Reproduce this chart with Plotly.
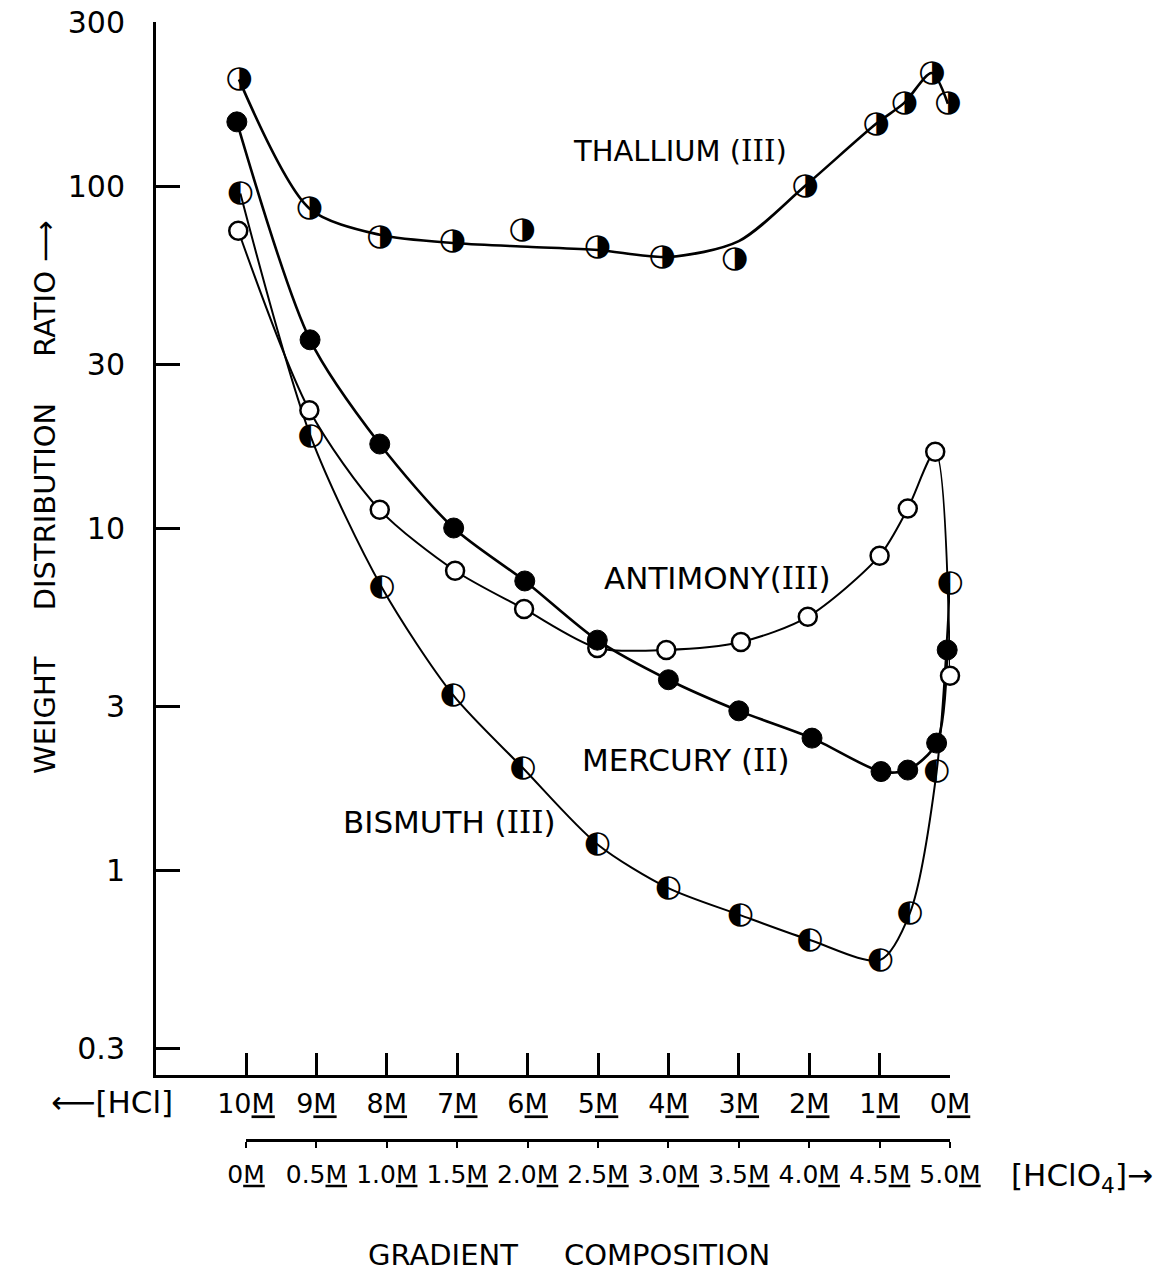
import plotly.graph_objects as go
import math

# ---------------- data ----------------
hcl_ticks = [10, 9, 8, 7, 6, 5, 4, 3, 2, 1, 0]
hcl_labels = ["10<u>M</u>", "9<u>M</u>", "8<u>M</u>", "7<u>M</u>", "6<u>M</u>", "5<u>M</u>",
              "4<u>M</u>", "3<u>M</u>", "2<u>M</u>", "1<u>M</u>", "0<u>M</u>"]
hclo4_ticks = [0, 0.5, 1.0, 1.5, 2.0, 2.5, 3.0, 3.5, 4.0, 4.5, 5.0]
hclo4_labels = ["0<u>M</u>", "0.5<u>M</u>", "1.0<u>M</u>", "1.5<u>M</u>", "2.0<u>M</u>", "2.5<u>M</u>",
                "3.0<u>M</u>", "3.5<u>M</u>", "4.0<u>M</u>", "4.5<u>M</u>", "5.0<u>M</u>"]
y_ticks = [300, 100, 30, 10, 3, 1, 0.3]
y_labels = ["300", "100", "30", "10", "3", "1", "0.3"]

# Thallium(III): measured points and drawn curve
tl_x = [10.1, 9.1, 8.1, 7.07, 6.08, 5.01, 4.09, 3.06, 2.06, 1.05, 0.65, 0.26, 0.03]
tl_y = [205, 86, 71, 69, 74, 66, 62, 61, 100, 152, 175, 214, 174]
tl_fit_x = [10.1, 9.1, 8.1, 7.0, 6.0, 5.0, 4.0, 3.0, 2.06, 1.05, 0.65, 0.26, 0.03]
tl_fit_y = [205, 86, 72, 68, 66.4, 65, 62, 69, 100, 152, 175, 214, 174]

# Mercury(II)
hg_x = [10.13, 9.09, 8.1, 7.05, 6.04, 5.01, 4.0, 3.0, 1.96, 0.98, 0.6, 0.19, 0.04]
hg_y = [154, 35.5, 17.6, 10.0, 7.0, 4.7, 3.6, 2.92, 2.43, 1.94, 1.96, 2.35, 4.4]

# Antimony(III)
sb_x = [10.11, 9.1, 8.1, 7.03, 6.05, 5.01, 4.03, 2.97, 2.02, 1.0, 0.6, 0.21, 0.0]
sb_y = [74, 22.1, 11.3, 7.5, 5.8, 4.46, 4.4, 4.64, 5.5, 8.3, 11.4, 16.7, 3.7]

# Bismuth(III)
bi_x = [10.08, 9.08, 8.07, 7.06, 6.07, 5.01, 4.0, 2.98, 1.99, 0.99, 0.57, 0.19, 0.0]
bi_y = [95, 18.5, 6.7, 3.25, 1.99, 1.19, 0.885, 0.738, 0.624, 0.546, 0.748, 1.94, 6.9]

# ---------------- layout geometry ----------------
W, H = 1163, 1277
ML, MR, MT, MB = 156, 213, 22, 77
PW, PH = W - ML - MR, H - MT - MB
AX_BOTTOM = 1075  # pixel of main x-axis line


def px(x):
    return (x - ML) / PW


def py(y):
    return (H - MB - y) / PH


FONT = "DejaVu Sans"
ROMAN = "<span style='font-family:DejaVu Serif'>%s</span>"

fig = go.Figure()

thick = dict(color="black", width=2.6, shape="spline", smoothing=0.8)
thin = dict(color="black", width=2.0, shape="spline", smoothing=0.8)

fig.add_trace(go.Scatter(x=tl_fit_x, y=tl_fit_y, mode="lines", line=thick, hoverinfo="skip"))
fig.add_trace(go.Scatter(x=hg_x, y=hg_y, mode="lines", line=thick, hoverinfo="skip"))
fig.add_trace(go.Scatter(x=sb_x, y=sb_y, mode="lines", line=thin, hoverinfo="skip"))
fig.add_trace(go.Scatter(x=bi_x, y=bi_y, mode="lines", line=thin, hoverinfo="skip"))

# markers
fig.add_trace(go.Scatter(x=sb_x, y=sb_y, mode="markers", cliponaxis=False,
                         marker=dict(size=18, color="white", line=dict(color="black", width=2.5))))
fig.add_trace(go.Scatter(x=hg_x, y=hg_y, mode="markers", cliponaxis=False,
                         marker=dict(size=20, color="black", line=dict(color="black", width=1))))
fig.add_trace(go.Scatter(x=tl_x, y=tl_y, mode="text", text=["\u25d1"] * len(tl_x), cliponaxis=False,
                         textposition="middle center", textfont=dict(family=FONT, size=31, color="black")))
fig.add_trace(go.Scatter(x=bi_x, y=bi_y, mode="text", text=["\u25d0"] * len(bi_x), cliponaxis=False,
                         textposition="middle center", textfont=dict(family=FONT, size=31, color="black")))

# invisible trace that activates the second (HClO4) axis
fig.add_trace(go.Scatter(x=[hclo4_ticks[0], hclo4_ticks[-1]], y=[1, 1], xaxis="x2", yaxis="y",
                         mode="markers", marker=dict(size=1, opacity=0), hoverinfo="skip"))

y_bottom = math.log10(100) - (AX_BOTTOM - 186) / 342.0
y_top = math.log10(100) + (186 - MT) / 342.0
x_left = 10 + (246 - ML) / 70.4

fig.update_layout(
    template="none",
    width=W, height=H,
    margin=dict(l=ML, r=MR, t=MT, b=MB, autoexpand=False),
    paper_bgcolor="white", plot_bgcolor="rgba(0,0,0,0)",
    showlegend=False,
    font=dict(family=FONT, color="black"),
    xaxis=dict(
        range=[x_left, 0], showgrid=False, zeroline=False, automargin=False,
        showline=True, linecolor="black", linewidth=3,
        tickmode="array", tickvals=hcl_ticks, ticktext=hcl_labels,
        ticks="inside", ticklen=22, tickwidth=2.5, tickcolor="black",
        tickfont=dict(size=27, family=FONT), ticklabelstandoff=3,
        anchor="y",
    ),
    xaxis2=dict(
        domain=[px(246), 1.0], range=[0, 5], anchor="free", position=py(1140),
        showgrid=False, zeroline=False, automargin=False,
        showline=True, linecolor="black", linewidth=2.5,
        tickmode="array", tickvals=hclo4_ticks, ticktext=hclo4_labels,
        ticks="outside", ticklen=6, tickwidth=2, tickcolor="black",
        tickfont=dict(size=25, family=FONT), ticklabelstandoff=5,
    ),
    yaxis=dict(
        type="log", range=[y_bottom, y_top], domain=[py(AX_BOTTOM), 1.0],
        showgrid=False, zeroline=False, automargin=False,
        showline=True, linecolor="black", linewidth=3,
        tickmode="array", tickvals=y_ticks, ticktext=y_labels,
        ticks="inside", ticklen=24, tickwidth=2.5, tickcolor="black",
        tickfont=dict(size=30, family=FONT), ticklabelstandoff=22,
    ),
)

ann = dict(showarrow=False, xref="paper", yref="paper", xanchor="center", yanchor="middle",
           font=dict(size=31, family=FONT, color="black"))
ann29 = dict(ann, font=dict(size=29, family=FONT, color="black"))
fig.add_annotation(x=px(680), y=py(151), text="THALLIUM (" + ROMAN % "III" + ")", **ann29)
fig.add_annotation(x=px(717), y=py(578), text="ANTIMONY(" + ROMAN % "III" + ")", **ann)
fig.add_annotation(x=px(686), y=py(760), text="MERCURY (" + ROMAN % "II" + ")", **ann)
fig.add_annotation(x=px(449), y=py(822), text="BISMUTH (" + ROMAN % "III" + ")", **ann)
fig.add_annotation(x=px(112), y=py(1102), text="\u27f5[HCl]", **ann)
fig.add_annotation(x=px(1082), y=py(1177), text="[HClO<sub>4</sub>]\u2192", **ann)
fig.add_annotation(x=px(569), y=py(1255), text="GRADIENT &nbsp; &nbsp; COMPOSITION", **ann29)
fig.add_annotation(x=px(45), y=py(497),
                   text="WEIGHT &nbsp; &nbsp; DISTRIBUTION &nbsp; &nbsp; RATIO \u27f6",
                   textangle=-90, **ann29)

fig.write_html("out.html")
